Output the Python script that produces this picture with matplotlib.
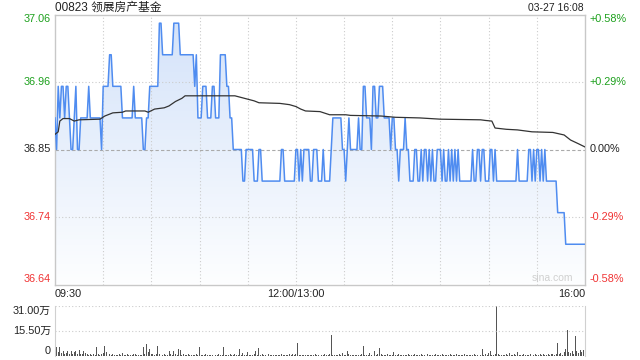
import numpy as np
import matplotlib
matplotlib.use("Agg")
import matplotlib.pyplot as plt
from matplotlib.colors import LinearSegmentedColormap
from matplotlib.patches import PathPatch

plt.rcParams["font.family"] = ["Liberation Sans", "Noto Sans CJK SC", "DejaVu Sans"]

TITLE = "00823 领展房产基金"
STAMP = "03-27 16:08"
PREV_CLOSE = 36.85
PCT_TICKS = [0.58, 0.29, 0.0, -0.29, -0.58]
TIME_LABELS = ["09:30", "12:00/13:00", "16:00"]
N_MIN = 331  # 09:30-12:00 + 13:00-16:00, one point a minute

# price: minute where a level starts, and the level
run_start = [0, 1, 2, 3, 4, 6, 7, 9, 10, 12, 13, 14, 16, 21, 22, 29, 30, 34, 36, 42, 49,
             50, 55, 57, 59, 65, 67, 74, 78, 87, 88, 89, 92, 95, 98, 100, 103, 107, 109, 111, 117,
             119, 124, 127, 129, 141, 143, 150, 152, 153, 154, 155, 159, 161, 164, 167, 168, 172, 173, 179, 181,
             182, 183, 184, 189, 190, 192, 194, 197, 198, 200, 202, 205, 209, 210, 212, 214, 215, 218, 219, 221,
             224, 226, 228, 229, 230, 232, 233, 234, 235, 236, 238, 241, 242, 243, 245, 246, 247, 248, 249, 250,
             251, 252, 260, 261, 263, 265, 266, 268, 271, 273, 274, 275, 288, 289, 295, 297, 298, 299, 300, 302,
             303, 304, 305, 306, 313, 318]
run_price = [36.90, 36.85, 36.95, 36.90, 36.95, 36.90, 36.95, 36.90, 36.85, 36.90, 36.95, 36.85, 36.90, 36.95, 36.90, 36.85, 36.95, 37.00, 36.95, 36.90, 36.95,
             36.90, 36.85, 36.90, 36.95, 37.05, 37.00, 37.05, 37.00, 36.95, 37.00, 36.90, 36.95, 36.90, 36.95, 36.90, 37.00, 36.95, 36.90, 36.85, 36.80,
             36.85, 36.80, 36.85, 36.80, 36.85, 36.80, 36.85, 36.80, 36.85, 36.80, 36.85, 36.80, 36.85, 36.80, 36.85, 36.80, 36.85, 36.90, 36.85, 36.80,
             36.85, 36.90, 36.85, 36.90, 36.85, 36.95, 36.90, 36.85, 36.95, 36.90, 36.95, 36.90, 36.85, 36.90, 36.85, 36.80, 36.85, 36.90, 36.85, 36.80,
             36.85, 36.80, 36.85, 36.80, 36.85, 36.80, 36.85, 36.80, 36.85, 36.80, 36.85, 36.80, 36.85, 36.80, 36.85, 36.80, 36.85, 36.80, 36.85, 36.80,
             36.85, 36.80, 36.85, 36.80, 36.85, 36.80, 36.85, 36.80, 36.85, 36.80, 36.85, 36.80, 36.85, 36.80, 36.85, 36.80, 36.85, 36.80, 36.85, 36.80,
             36.85, 36.80, 36.85, 36.80, 36.75, 36.70]

# average price line, read at its bends
avg_min = [0, 2, 3, 5, 9, 12, 15, 28, 31, 36, 42, 44, 56, 58, 62, 68, 71, 75, 79, 81,
           112, 118, 124, 127, 140, 146, 150, 153, 156, 165, 171, 181, 184, 203, 212, 227, 240, 265, 268, 272,
           274, 281, 288, 297, 310, 317, 321, 326, 330]
avg_px = [36.874, 36.878, 36.895, 36.899, 36.899, 36.895, 36.897, 36.898, 36.903, 36.908, 36.909, 36.911, 36.911, 36.909, 36.914, 36.916, 36.919, 36.926, 36.931, 36.935,
          36.935, 36.931, 36.927, 36.924, 36.923, 36.921, 36.918, 36.914, 36.911, 36.910, 36.905, 36.905, 36.904, 36.903, 36.901, 36.900, 36.898, 36.897, 36.896, 36.895,
          36.884, 36.882, 36.881, 36.878, 36.877, 36.873, 36.865, 36.859, 36.854]

# volume per minute, in 万 shares
volume = [3.5, 5.5, 2.0, 5.0, 1.5, 3.0, 1.0, 1.5, 2.5, 1.0,
          3.0, 1.0, 2.0, 2.5, 1.0, 3.5, 1.0, 1.0, 2.5, 1.5,
          1.0, 0.5, 1.0, 0.5, 1.0, 0.5, 5.5, 1.0, 0.5, 1.0,
          1.5, 6.0, 2.0, 3.5, 1.0, 0.5, 1.0, 0.5, 0.5, 0.5,
          1.0, 0.5, 1.5, 0.5, 0.5, 1.0, 0.5, 0.5, 0.5, 1.0,
          1.0, 0.5, 0.5, 0.5, 0.5, 5.0, 1.0, 7.0, 2.0, 4.0,
          1.0, 1.0, 0.5, 1.0, 6.0, 1.0, 0.5, 0.5, 1.0, 0.5,
          0.5, 3.0, 1.0, 0.5, 2.5, 1.0, 0.5, 4.0, 3.5, 0.5,
          1.0, 0.5, 0.5, 1.0, 0.5, 0.5, 0.5, 0.5, 1.0, 0.5,
          5.5, 0.5, 0.5, 0.5, 1.0, 0.5, 0.5, 0.5, 0.5, 0.5,
          0.5, 0.5, 1.0, 0.5, 0.5, 5.0, 0.5, 0.5, 0.5, 1.0,
          0.5, 0.5, 1.0, 0.5, 0.5, 4.0, 0.5, 1.5, 0.5, 0.5,
          2.0, 0.5, 0.5, 0.5, 1.0, 3.0, 0.5, 4.5, 0.5, 1.0,
          0.5, 0.5, 0.5, 1.0, 0.5, 0.5, 0.5, 0.5, 0.5, 0.5,
          0.5, 1.0, 0.5, 0.5, 0.5, 0.5, 1.0, 0.5, 1.0, 0.5,
          1.0, 8.0, 0.5, 0.5, 0.5, 0.5, 0.5, 0.5, 0.5, 0.5,
          0.5, 0.5, 1.0, 0.5, 0.5, 1.0, 0.5, 0.5, 1.0, 0.5,
          0.5, 1.0, 12.5, 0.5, 0.5, 0.5, 0.5, 1.0, 0.5, 1.5,
          0.5, 0.5, 2.5, 1.0, 0.5, 0.5, 0.5, 0.5, 0.5, 0.5,
          0.5, 1.0, 6.0, 0.5, 0.5, 0.5, 1.5, 0.5, 0.5, 3.0,
          0.5, 1.0, 4.5, 1.0, 0.5, 0.5, 0.5, 1.0, 0.5, 0.5,
          0.5, 2.0, 0.5, 0.5, 1.0, 0.5, 0.5, 0.5, 0.5, 0.5,
          1.0, 0.5, 0.5, 0.5, 1.0, 0.5, 0.5, 0.5, 1.0, 0.5,
          0.5, 0.5, 1.0, 0.5, 0.5, 0.5, 0.5, 1.0, 0.5, 0.5,
          0.5, 1.0, 0.5, 0.5, 0.5, 0.5, 1.0, 0.5, 0.5, 0.5,
          1.0, 0.5, 0.5, 0.5, 0.5, 1.0, 0.5, 0.5, 0.5, 0.5,
          0.5, 1.0, 0.5, 0.5, 0.5, 0.5, 4.0, 0.5, 1.0, 0.5,
          1.5, 3.0, 0.5, 0.5, 1.0, 31.0, 1.0, 0.5, 0.5, 0.5,
          0.5, 1.0, 0.5, 1.5, 0.5, 0.5, 1.0, 0.5, 2.0, 0.5,
          0.5, 0.5, 1.0, 0.5, 0.5, 0.5, 1.0, 0.5, 0.5, 1.0,
          0.5, 0.5, 1.0, 0.5, 1.0, 0.5, 0.5, 1.0, 0.5, 1.0,
          1.0, 0.5, 1.0, 8.0, 1.0, 1.5, 0.5, 2.0, 4.0, 16.0,
          2.0, 1.5, 2.5, 1.0, 12.0, 3.0, 1.5, 3.5, 2.0, 3.5,
          3.0]
VOL_TOP = 31.0

BLUE = "#4f8cf0"
GREEN = "#1ca01c"
RED = "#f03232"
GRID = "#cccccc"

minutes = np.arange(N_MIN)
price = np.array(run_price)[np.searchsorted(run_start, minutes, side="right") - 1]
ylo = PREV_CLOSE * (1 + PCT_TICKS[-1] / 100)
yhi = PREV_CLOSE * (1 + PCT_TICKS[0] / 100)

W, H = 640, 360
fig = plt.figure(figsize=(W / 100, H / 100), dpi=100)
ax = fig.add_axes([55 / W, 1 - 284.5 / H, 530 / W, 270 / H])
vx = fig.add_axes([55 / W, 1 - 355.5 / H, 530 / W, 50 / H])

ax.set_xlim(0, N_MIN - 1)
ax.set_ylim(ylo, yhi)

# gradient fill under the price line
poly = ax.fill_between(minutes, price, ylo, color="none", lw=0)
cmap = LinearSegmentedColormap.from_list("fade", ["#fdfeff", "#d3e2f9"])
grad = np.linspace(1, 0, 256).reshape(-1, 1)
im = ax.imshow(grad, extent=[0, N_MIN - 1, ylo, yhi], aspect="auto", cmap=cmap,
               origin="upper", zorder=1)
clip = PathPatch(poly.get_paths()[0], transform=ax.transData, fc="none", ec="none")
ax.add_patch(clip)
im.set_clip_path(clip)

ax.plot(minutes, price, color=BLUE, lw=1.1, zorder=3)
ax.plot(avg_min, avg_px, color="#333333", lw=0.9, zorder=4)

# grid
for m in range(30, N_MIN - 1, 30):
    ax.axvline(m, color=GRID, lw=0.8, ls=(0, (1, 2)), zorder=2)
for p in PCT_TICKS[1:-1]:
    v = PREV_CLOSE * (1 + p / 100)
    if p == 0:
        ax.axhline(v, color="#aaaaaa", lw=0.8, ls=(0, (3, 2)), zorder=2)
    else:
        ax.axhline(v, color=GRID, lw=0.8, ls=(0, (1, 2)), zorder=2)

ax.set_xticks([]); ax.set_yticks([])
for s in ax.spines.values():
    s.set_color("#c8c8c8"); s.set_linewidth(1)

tr = ax.get_yaxis_transform()
for i, p in enumerate(PCT_TICKS):
    v = PREV_CLOSE * (1 + p / 100)
    col = GREEN if p > 0 else (RED if p < 0 else "#222222")
    va = "top" if i == 0 else ("bottom" if i == len(PCT_TICKS) - 1 else "center")
    ax.text(-0.0075, v, f"{v:.2f}", transform=tr, ha="right", va=va, color=col, fontsize=7.8)
    ax.text(1.0085, v, f"{p:+.2f}%" if p != 0 else "0.00%", transform=tr, ha="left", va=va,
            color=col, fontsize=7.8)

ax.text(1 - 12 / 530, 0.006, "sina.com", transform=ax.transAxes, ha="right", va="bottom",
        color="#d0d0d0", fontsize=7.5, zorder=5)

# time labels between the panels
fig.text(55 / W, 1 - 294 / H, TIME_LABELS[0], ha="left", va="center", fontsize=7.8, color="#222222")
fig.text(296 / W, 1 - 294 / H, TIME_LABELS[1], ha="center", va="center", fontsize=7.8, color="#222222")
fig.text(585 / W, 1 - 294 / H, TIME_LABELS[2], ha="right", va="center", fontsize=7.8, color="#222222")

fig.text(55 / W, 1 - 11 / H, TITLE, ha="left", va="baseline", fontsize=8.5, color="#222222")
fig.text(584 / W, 1 - 11 / H, STAMP, ha="right", va="baseline", fontsize=7.5, color="#222222")

# volume panel
vx.bar(minutes, volume, width=0.6, color="#555555", lw=0)
vx.set_xlim(0, N_MIN - 1)
vx.set_ylim(0, VOL_TOP)
vx.axhline(VOL_TOP, color=GRID, lw=0.8, ls=(0, (1, 2)))
vx.axhline(VOL_TOP / 2, color=GRID, lw=0.8, ls=(0, (1, 2)))
vx.set_xticks([]); vx.set_yticks([])
for k in ("top", "bottom"):
    vx.spines[k].set_visible(False)
for k in ("left", "right"):
    vx.spines[k].set_color("#d0d0d0")
vtr = vx.get_yaxis_transform()
vx.text(-0.0075, VOL_TOP, f"{VOL_TOP:.2f}万", transform=vtr, ha="right", va="top", fontsize=7.8, color="#222222")
vx.text(-0.0075, VOL_TOP / 2, f"{VOL_TOP / 2:.2f}万", transform=vtr, ha="right", va="center", fontsize=7.8, color="#222222")
vx.text(-0.0075, 0, "0", transform=vtr, ha="right", va="bottom", fontsize=7.8, color="#222222")

fig.savefig("out.png", dpi=100)
